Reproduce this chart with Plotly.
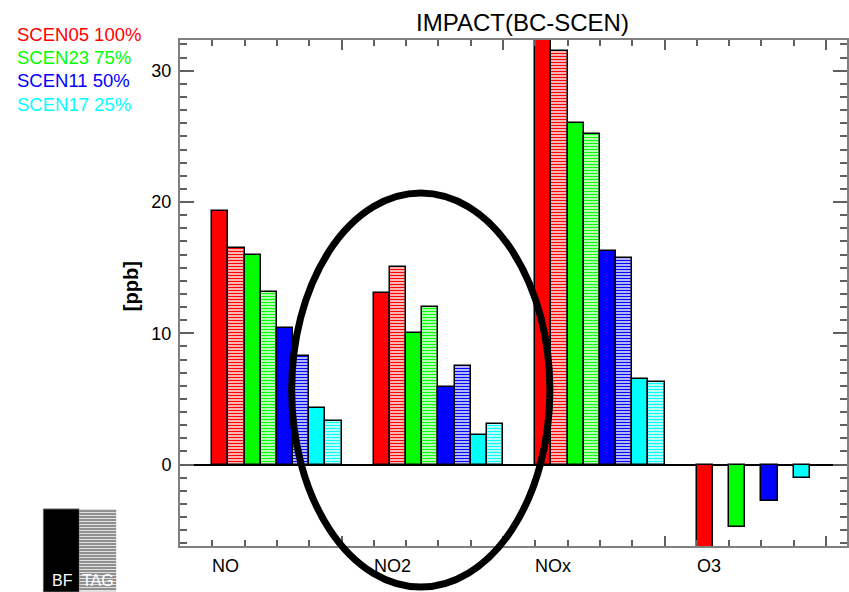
import plotly.graph_objects as go

# ---------------- data ----------------
categories = ["NO", "NO2", "NOx", "O3"]
scenarios = ["SCEN05", "SCEN23", "SCEN11", "SCEN17"]
percents = ["100%", "75%", "50%", "25%"]
colors = ["#ff0000", "#00ff00", "#0000ff", "#00ffff"]
tints = ["#ffb4b4", "#b4ffb4", "#b4b4ff", "#b4ffff"]

# BF (solid) values per scenario, per category
bf_scen05 = [19.3, 13.05, 32.8, -6.5]
bf_scen23 = [16.0, 10.0, 26.0, -4.73]
bf_scen11 = [10.4, 5.93, 16.3, -2.77]
bf_scen17 = [4.31, 2.25, 6.54, -1.0]
# TAG (hatched) values per scenario, per category (no TAG bar for O3)
tag_scen05 = [16.47, 15.03, 31.5, None]
tag_scen23 = [13.17, 12.0, 25.18, None]
tag_scen11 = [8.27, 7.5, 15.71, None]
tag_scen17 = [3.35, 3.07, 6.31, None]

bf_values = [bf_scen05, bf_scen23, bf_scen11, bf_scen17]
tag_values = [tag_scen05, tag_scen23, tag_scen11, tag_scen17]

group_step = 10  # slots per category group
y_range = [-6.2, 32.34]
y_tickvals = [0, 10, 20, 30]

# ---------------- layout geometry ----------------
W, H = 849, 592
L, R, T, B = 180, 0, 40, 46
PW, PH = W - L - R, H - T - B


def px(x):
    return (x - L) / PW


def py(y):
    return (H - B - y) / PH


fig = go.Figure()

for s in range(4):
    xs_bf = [g * group_step + 2 * s + 0.5 for g in range(len(categories))]
    xs_tag = [g * group_step + 2 * s + 1.5 for g in range(len(categories))]
    fig.add_trace(go.Bar(
        x=xs_bf, y=bf_values[s], width=1.0,
        marker=dict(color=colors[s], line=dict(color="black", width=1.5)),
        name=scenarios[s] + " BF", showlegend=False, hoverinfo="skip"))
    fig.add_trace(go.Bar(
        x=xs_tag, y=tag_values[s], width=1.0,
        marker=dict(color=tints[s], line=dict(color="black", width=1.5),
                    pattern=dict(shape="-", fgcolor=colors[s], bgcolor=tints[s],
                                 size=3, solidity=0.35, fillmode="replace")),
        name=scenarios[s] + " TAG", showlegend=False, hoverinfo="skip"))

fig.update_layout(
    width=W, height=H,
    margin=dict(l=L, r=R, t=T, b=B, pad=0),
    paper_bgcolor="white", plot_bgcolor="white",
    barmode="overlay", bargap=0,
    font=dict(family="Liberation Sans, Arial, sans-serif", color="black", size=17),
    showlegend=False,
)

fig.update_xaxes(
    range=[-2, 39.3], showgrid=False, zeroline=False,
    showline=True, linecolor="#808080", linewidth=2, mirror="ticks",
    tickmode="array", tickvals=[8, 18, 28, 38], ticktext=["", "", "", ""],
    ticks="inside", ticklen=10, tickwidth=1.5, tickcolor="#606060",
    minor=dict(tickmode="linear", tick0=0, dtick=2, ticks="inside", ticklen=6,
               tickwidth=1.5, tickcolor="#606060", showgrid=False),
)
fig.update_yaxes(
    range=y_range, showgrid=False,
    zeroline=True, zerolinecolor="black", zerolinewidth=1.5,
    showline=True, linecolor="#808080", linewidth=2, mirror="ticks",
    tickmode="array", tickvals=y_tickvals,
    ticks="inside", ticklen=14, tickwidth=1.5, tickcolor="#606060",
    tickfont=dict(size=18, color="black"), ticklabelstandoff=3,
    minor=dict(tickmode="linear", tick0=0, dtick=1, ticks="inside", ticklen=7,
               tickwidth=1.5, tickcolor="#606060", showgrid=False),
)

annotations = []
# title
annotations.append(dict(text="IMPACT(BC-SCEN)", xref="paper", yref="paper",
                        x=px(524), y=py(23), xanchor="center", yanchor="middle",
                        showarrow=False, font=dict(size=24, color="black")))
# y label
annotations.append(dict(text="<b>[ppb]</b>", xref="paper", yref="paper",
                        x=px(131), y=py(286), xanchor="center", yanchor="middle",
                        textangle=-90, showarrow=False, font=dict(size=20)))
# category labels
for g, c in enumerate(categories):
    annotations.append(dict(text=c, xref="x", yref="paper", x=g * group_step,
                            y=py(566), xanchor="left", yanchor="middle",
                            showarrow=False, xshift=-2, font=dict(size=18)))
# legend texts
for s in range(4):
    annotations.append(dict(text=f"{scenarios[s]} {percents[s]}", xref="paper",
                            yref="paper", x=px(15), y=py(34 + 23.5 * s),
                            xanchor="left", yanchor="middle", showarrow=False,
                            font=dict(size=18.5, color=colors[s])))
# BF / TAG box labels
annotations.append(dict(text="BF", xref="paper", yref="paper", x=px(62), y=py(580),
                        xanchor="center", yanchor="middle", showarrow=False,
                        font=dict(size=16, color="white")))
annotations.append(dict(text="TAG", xref="paper", yref="paper", x=px(98), y=py(580),
                        xanchor="center", yanchor="middle", showarrow=False,
                        font=dict(size=16, color="white")))

shapes = []
# ellipse around NO2
shapes.append(dict(type="circle", xref="paper", yref="paper",
                   x0=px(292), x1=px(551), y0=py(587), y1=py(193),
                   line=dict(color="black", width=7), fillcolor="rgba(0,0,0,0)",
                   layer="above"))
# BF/TAG key box
shapes.append(dict(type="rect", xref="paper", yref="paper",
                   x0=px(43), x1=px(79), y0=py(592), y1=py(509),
                   line=dict(color="#606060", width=1), fillcolor="black"))
shapes.append(dict(type="rect", xref="paper", yref="paper",
                   x0=px(79), x1=px(116), y0=py(592), y1=py(509),
                   line=dict(width=0), fillcolor="#e0e0e0"))
yy = 511
while yy < 592:
    shapes.append(dict(type="line", xref="paper", yref="paper",
                       x0=px(79), x1=px(116), y0=py(yy), y1=py(yy),
                       line=dict(color="#404040", width=1)))
    yy += 3

fig.update_layout(annotations=annotations, shapes=shapes)

fig.write_html("out.html")
